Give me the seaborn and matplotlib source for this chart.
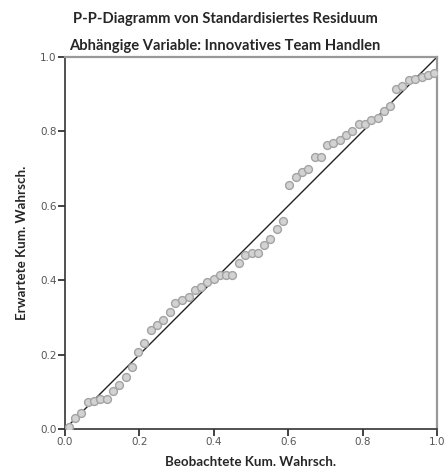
import matplotlib
matplotlib.use("Agg")
import matplotlib.pyplot as plt
import seaborn as sns
import pandas as pd

# observed cumulative probability (x) and expected cumulative probability (y)
observed = [0.012, 0.027, 0.043, 0.061, 0.078, 0.095, 0.112, 0.130, 0.146, 0.163,
            0.180, 0.196, 0.213, 0.230, 0.247, 0.264, 0.281, 0.297, 0.315, 0.332,
            0.349, 0.366, 0.383, 0.400, 0.417, 0.433, 0.450, 0.467, 0.484, 0.502,
            0.518, 0.535, 0.552, 0.569, 0.586, 0.603, 0.620, 0.637, 0.654, 0.671,
            0.687, 0.704, 0.721, 0.738, 0.755, 0.772, 0.790, 0.806, 0.823, 0.841,
            0.858, 0.874, 0.890, 0.907, 0.924, 0.941, 0.959, 0.976, 0.993]
expected = [0.006, 0.029, 0.042, 0.073, 0.075, 0.080, 0.080, 0.103, 0.117, 0.140,
            0.168, 0.207, 0.230, 0.265, 0.279, 0.292, 0.315, 0.340, 0.346, 0.356,
            0.375, 0.383, 0.396, 0.404, 0.415, 0.415, 0.415, 0.445, 0.468, 0.472,
            0.474, 0.494, 0.512, 0.538, 0.558, 0.657, 0.678, 0.692, 0.698, 0.730,
            0.730, 0.763, 0.770, 0.777, 0.791, 0.800, 0.819, 0.821, 0.831, 0.835,
            0.854, 0.867, 0.913, 0.922, 0.938, 0.942, 0.945, 0.951, 0.958]
ref_line = [0.0, 1.0]
ticks = [0.0, 0.2, 0.4, 0.6, 0.8, 1.0]
tick_labels = ["0.0", "0.2", "0.4", "0.6", "0.8", "1.0"]

title1 = "P-P-Diagramm von Standardisiertes Residuum"
title2 = "Abhängige Variable: Innovatives Team Handlen"
xlabel = "Beobachtete Kum. Wahrsch."
ylabel = "Erwartete Kum. Wahrsch."

df = pd.DataFrame({"obs": observed, "exp": expected})
ref = pd.DataFrame({"x": ref_line, "y": ref_line})

sns.set_style("white")
plt.rcParams["font.family"] = ["DejaVu Sans"]

W, H = 446, 471
fig = plt.figure(figsize=(W / 100, H / 100), dpi=100)
ax = fig.add_axes([65 / W, 1 - 429 / H, 372 / W, 372 / H])

sns.lineplot(data=ref, x="x", y="y", ax=ax, color="#222222", linewidth=1.0, zorder=2)
sns.scatterplot(data=df, x="obs", y="exp", ax=ax, s=32, color="#d2d2d2",
                edgecolor="#a3a3a3", linewidth=1.0, zorder=3)

ax.set_xlim(0, 1)
ax.set_ylim(0, 1)
ax.set_xticks(ticks)
ax.set_xticklabels(tick_labels)
ax.set_yticks(ticks)
ax.set_yticklabels(tick_labels)
ax.tick_params(axis="both", direction="out", length=5, width=1.2, color="#222222",
               labelsize=7.5, labelcolor="#555555", pad=1, left=True, bottom=True)
for side in ["left", "bottom"]:
    ax.spines[side].set_color("#333333")
    ax.spines[side].set_linewidth(1.2)
for side in ["top", "right"]:
    ax.spines[side].set_visible(True)
    ax.spines[side].set_color("#999999")
    ax.spines[side].set_linewidth(1.6)

ax.set_xlabel("")
ax.set_ylabel("")
fig.text(251 / W, 1 - 462 / H, xlabel, ha="center", va="center",
         fontsize=9.6, fontweight="bold", family=["Lato", "DejaVu Sans"])
fig.text(22 / W, 1 - 243 / H, ylabel, ha="center", va="center", rotation=90,
         fontsize=9.6, fontweight="bold", family=["Lato", "DejaVu Sans"])
fig.text(225 / W, 1 - 19 / H, title1, ha="center", va="center",
         fontsize=10.6, fontweight="bold", family=["Lato", "DejaVu Sans"])
fig.text(225 / W, 1 - 46 / H, title2, ha="center", va="center",
         fontsize=10.6, fontweight="bold", family=["Lato", "DejaVu Sans"])

fig.savefig("out.png", dpi=100, facecolor="white")
